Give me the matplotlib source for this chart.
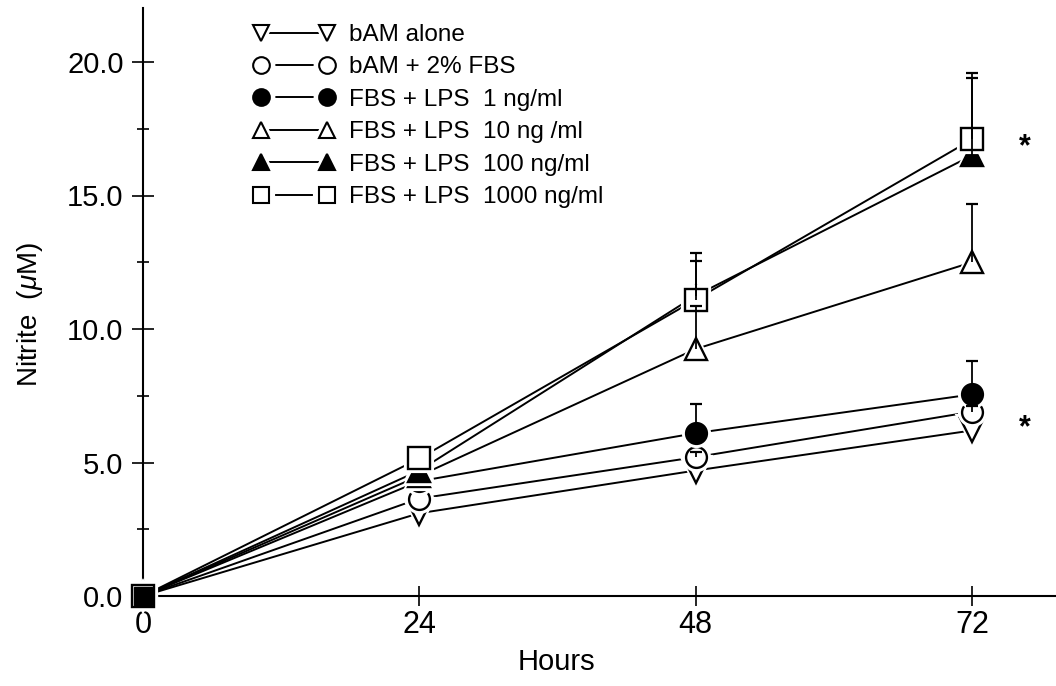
import numpy as np
import matplotlib
matplotlib.use("Agg")
import matplotlib.pyplot as plt
from matplotlib.lines import Line2D
from matplotlib.legend_handler import HandlerTuple

plt.rcParams['font.family'] = ['Liberation Sans', 'DejaVu Sans']
plt.rcParams['mathtext.fontset'] = 'custom'
plt.rcParams['mathtext.it'] = 'Liberation Sans:italic'
plt.rcParams['mathtext.rm'] = 'Liberation Sans'

# data
hours = [0, 24, 48, 72]
bam_alone = [0, 3.1, 4.7, 6.2]
bam_fbs = [0, 3.65, 5.2, 6.9]
lps_1 = [0, 4.3, 6.1, 7.55]
lps_10 = [0, 4.5, 9.25, 12.5]
lps_100 = [0, 4.7, 11.25, 16.5]
lps_1000 = [0, 5.15, 11.1, 17.1]

# upper error bars (0 = none drawn)
err_alone = [0, 0, 0, 0]
err_fbs = [0, 0, 0.2, 0.2]
err_1 = [0, 0, 1.1, 1.25]
err_10 = [0, 0, 1.6, 2.2]
err_100 = [0, 0, 1.3, 2.9]
err_1000 = [0, 0, 1.75, 2.5]

labels = ['bAM alone', 'bAM + 2% FBS', 'FBS + LPS  1 ng/ml',
          'FBS + LPS  10 ng /ml', 'FBS + LPS  100 ng/ml', 'FBS + LPS  1000 ng/ml']
series = [bam_alone, bam_fbs, lps_1, lps_10, lps_100, lps_1000]
errors = [err_alone, err_fbs, err_1, err_10, err_100, err_1000]
markers = ['v', 'o', 'o', '^', '^', 's']
fills = ['white', 'white', 'black', 'white', 'black', 'white']
sizes = [17, 15, 15, 16, 16, 15.5]

fig = plt.figure(figsize=(10.56, 6.86), dpi=100)
ax = fig.add_axes([143 / 1056, 90 / 686, 913 / 1056, 588 / 686])

handles = []
for i, (vals, err) in enumerate(zip(series, errors)):
    # connecting line
    ax.plot(hours, vals, color='black', lw=1.4, zorder=1, clip_on=False)
    # white halo so lines stop short of the symbols
    ax.plot(hours, vals, ls='none', marker=markers[i], ms=sizes[i] + 3,
            mfc='white', mec='white', mew=3, zorder=2 + 2 * i, clip_on=False)
    ax.plot(hours, vals, ls='none', marker=markers[i], ms=sizes[i],
            mfc=fills[i], mec='black', mew=1.7, zorder=3 + 2 * i, clip_on=False)
    # upper error bars, drawn from the point centre upward
    e = np.array(err, dtype=float)
    v = np.array(vals, dtype=float)
    x = np.array(hours, dtype=float)
    keep = e > 0
    if keep.any():
        ax.vlines(x[keep], v[keep], v[keep] + e[keep], color='black', lw=1.3, zorder=20)
        ax.plot(x[keep], v[keep] + e[keep], ls='none', marker='_', ms=9,
                mew=1.6, color='black', zorder=20)
    # legend key: line, white gap, symbol at each end
    handles.append((
        Line2D([], [], color='black', lw=1.4),
        Line2D([], [], ls='none', marker=markers[i], ms=17, mfc='white',
               mec='white', mew=3),
        Line2D([], [], ls='none', marker=markers[i], ms=12, mfc=fills[i],
               mec='black', mew=1.5),
    ))

# all groups start at zero -> solid square at the origin
ax.plot(hours[:1], lps_1000[:1], ls='none', marker='s', ms=13, mfc='black',
        mec='black', zorder=30, clip_on=False)

ax.set_xlim(0, 913 / (829 / 72))
ax.set_ylim(0, 588 / 26.7)
ax.spines['top'].set_visible(False)
ax.spines['right'].set_visible(False)
for s in ('left', 'bottom'):
    ax.spines[s].set_linewidth(1.5)

ax.set_xticks(hours)
ax.set_xticklabels([str(h) for h in hours])
ax.set_yticks([0, 5, 10, 15, 20])
ax.set_yticklabels(['0.0', '5.0', '10.0', '15.0', '20.0'])
ax.set_yticks([2.5, 7.5, 12.5, 17.5], minor=True)
ax.tick_params(axis='x', direction='inout', length=14, width=1.2, labelsize=22, pad=3)
ax.tick_params(axis='y', which='major', direction='inout', length=16, width=1.2,
               labelsize=21, pad=6)
ax.tick_params(axis='y', which='minor', direction='inout', length=8, width=1.2)

ax.set_xlabel('Hours', fontsize=21)
ax.xaxis.set_label_coords(0.453, -0.088)
ax.set_ylabel('Nitrite  ($\\mu$M)', fontsize=20)
ax.yaxis.set_label_coords(-0.107, 0.478)

ax.text(76.6, 16.8, '*', fontsize=22, fontweight='bold', ha='center', va='center')
ax.text(76.6, 6.3, '*', fontsize=22, fontweight='bold', ha='center', va='center')

ax.legend(handles=handles, labels=labels, numpoints=2, frameon=False, fontsize=17.5,
          handler_map={tuple: HandlerTuple(ndivide=1, pad=0)},
          handlelength=3.3, handletextpad=0.6, labelspacing=0.43,
          borderpad=0, borderaxespad=0,
          loc='upper left', bbox_to_anchor=(254 / 1056, 1 - 24 / 686),
          bbox_transform=fig.transFigure)

fig.savefig('out.png', dpi=100)
